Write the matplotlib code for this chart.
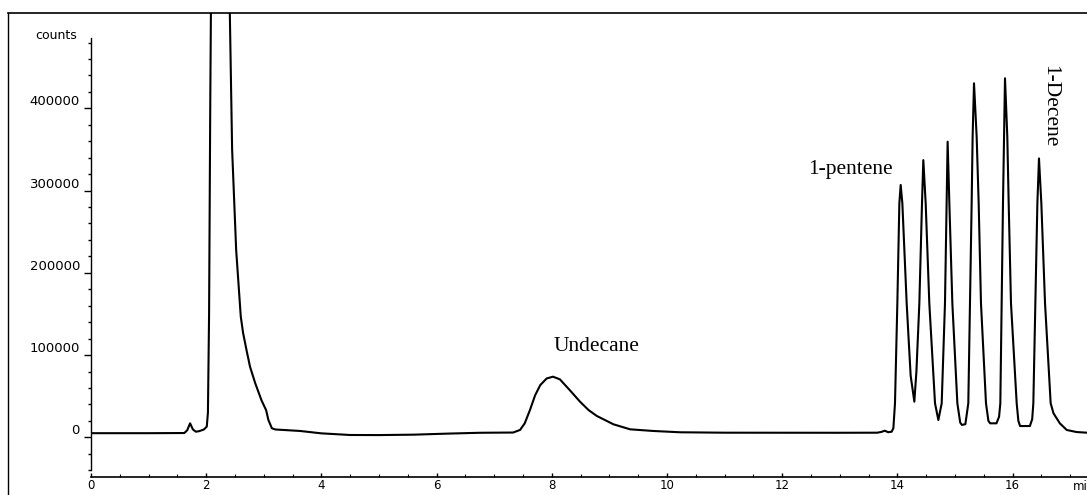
import matplotlib
matplotlib.use("Agg")
import matplotlib.pyplot as plt
from matplotlib.lines import Line2D
import numpy as np

# ---- data ----
time_min = [
    0.00, 1.00, 1.62, 1.67, 1.72, 1.77, 1.82, 1.88, 1.96, 2.01, 2.03, 2.05, 2.07, 2.09,
    2.20, 2.35, 2.41, 2.45, 2.52, 2.56, 2.60, 2.64, 2.70, 2.76, 2.85, 2.96, 3.04, 3.08,
    3.14, 3.20, 3.34, 3.63, 4.00, 4.50, 5.00, 5.60, 6.20, 6.75, 7.20,
    7.33, 7.45, 7.53, 7.62, 7.71, 7.80, 7.91, 8.02, 8.14, 8.31, 8.49, 8.64, 8.78, 9.07,
    9.36, 9.76, 10.23, 11.00, 12.00, 13.00, 13.65, 13.72, 13.78, 13.84, 13.90,
    13.93, 13.958, 13.999, 14.034, 14.057, 14.086, 14.161, 14.23, 14.294,
    14.33, 14.381, 14.427, 14.450, 14.491, 14.554, 14.653, 14.711,
    14.769, 14.826, 14.855, 14.872, 14.902, 14.954, 15.041, 15.09, 15.12, 15.18,
    15.231, 15.260, 15.289, 15.306, 15.330, 15.376, 15.411, 15.451, 15.538, 15.58, 15.61,
    15.72, 15.765, 15.787, 15.810, 15.833, 15.851, 15.868, 15.908, 15.932, 15.972, 16.071,
    16.10, 16.13, 16.30, 16.34, 16.360, 16.395, 16.430, 16.458, 16.499, 16.563, 16.661,
    16.71, 16.82, 16.94, 17.11, 17.29,
]
counts = [
    5000, 5000, 5200, 8500, 17000, 9500, 6800, 7500, 9500, 13000, 30000, 150000, 400000, 600000,
    680000, 650000, 516000, 350000, 228000, 187000, 147000, 127000, 106000, 86000, 66000, 45000, 33000, 21000,
    11000, 9500, 8900, 7700, 4800, 2800, 2700, 3200, 4500, 5500, 5700,
    5800, 9000, 17000, 33000, 51000, 63500, 71500, 73700, 70500, 57500, 43300, 33000, 26000, 15800,
    9700, 7700, 6100, 5600, 5500, 5500, 5600, 6500, 8000, 6200, 6800,
    11000, 41300, 162900, 284500, 306800, 284500, 162900, 75000, 43300,
    80000, 162900, 284500, 337000, 284500, 162900, 41300, 21000,
    41300, 162900, 284500, 359400, 284500, 162900, 41300, 18000, 15000, 16000,
    41300, 162900, 284500, 365500, 430400, 365500, 284500, 162900, 41300, 20000, 17000,
    17000, 25000, 41300, 162900, 284500, 365500, 436500, 365500, 284500, 162900, 41300,
    20000, 13700, 13700, 22000, 41300, 162900, 284500, 339000, 284500, 162900, 41300,
    29200, 17000, 8900, 6400, 5600,
]

x_ticks = [0, 2, 4, 6, 8, 10, 12, 14, 16]
x_ticklabels = ["0", "2", "4", "6", "8", "10", "12", "14", "16"]
y_ticks = [0, 100000, 200000, 300000, 400000]
y_ticklabels = ["0", "100000", "200000", "300000", "400000"]

peak_labels = ["Undecane", "1-pentene", "1-Decene"]
peak_label_pos = [(8.77, 109800), (13.18, 325000), (16.65, 402800)]
peak_label_rot = [0, 0, -90]

# ---- figure ----
W, H, DPI = 1087, 495, 100
fig = plt.figure(figsize=(W / DPI, H / DPI), dpi=DPI)
fig.patch.set_facecolor("white")

x0_px, top_px, bot_px = 91, 13.3, 476.7
ax = fig.add_axes([x0_px / W, (H - bot_px) / H, (W - x0_px) / W, (bot_px - top_px) / H])
ax.set_xlim(0, (W - x0_px) / 57.6)
ax.set_ylim((437.3 - bot_px) / 0.8225 * 1000, (437.3 - top_px) / 0.8225 * 1000)

ax.plot(time_min, counts, color="black", lw=1.5, solid_joinstyle="round")

for s in ["top", "right"]:
    ax.spines[s].set_visible(False)
ax.spines["left"].set_bounds(-40000, 485000)
ax.spines["left"].set_linewidth(1.0)
ax.spines["bottom"].set_linewidth(1.2)

ax.set_yticks(y_ticks)
ax.set_yticklabels(y_ticklabels, fontsize=9.5, family="DejaVu Sans")
ax.set_yticks(np.arange(-40000, 480001, 20000), minor=True)
ax.tick_params(axis="y", which="major", direction="out", length=5, width=1.0, pad=3)
ax.tick_params(axis="y", which="minor", direction="out", length=2.5, width=1.0)
for lbl in ax.get_yticklabels():
    lbl.set_va("bottom")

ax.set_xticks(x_ticks)
ax.set_xticklabels(x_ticklabels, fontsize=8.5, family="DejaVu Sans")
ax.set_xticks(np.arange(0, 17.3, 0.5), minor=True)
ax.tick_params(axis="x", which="major", direction="in", length=3, width=1.0, pad=1.5)
ax.tick_params(axis="x", which="minor", direction="in", length=2, width=0.8)

ax.text(-0.243, 489000, "counts", fontsize=9, family="DejaVu Sans",
        ha="right", va="center", clip_on=False)
ax.text(17.05, -60000, "min", fontsize=8.5, family="DejaVu Sans",
        ha="left", va="center", clip_on=False)

for lab, (tx, ty), rot in zip(peak_labels, peak_label_pos, peak_label_rot):
    ax.text(tx, ty, lab, fontsize=15.5, family="Liberation Serif",
            ha="center", va="center", rotation=rot)

# outer frame (top and left)
fx = 8.3 / W
fy = 1 - top_px / H
fig.add_artist(Line2D([fx, 1.0], [fy, fy], color="black", lw=1.2, transform=fig.transFigure))
fig.add_artist(Line2D([fx, fx], [fy, 0.0], color="black", lw=1.0, transform=fig.transFigure))

fig.savefig("out.png", dpi=DPI, facecolor="white")
